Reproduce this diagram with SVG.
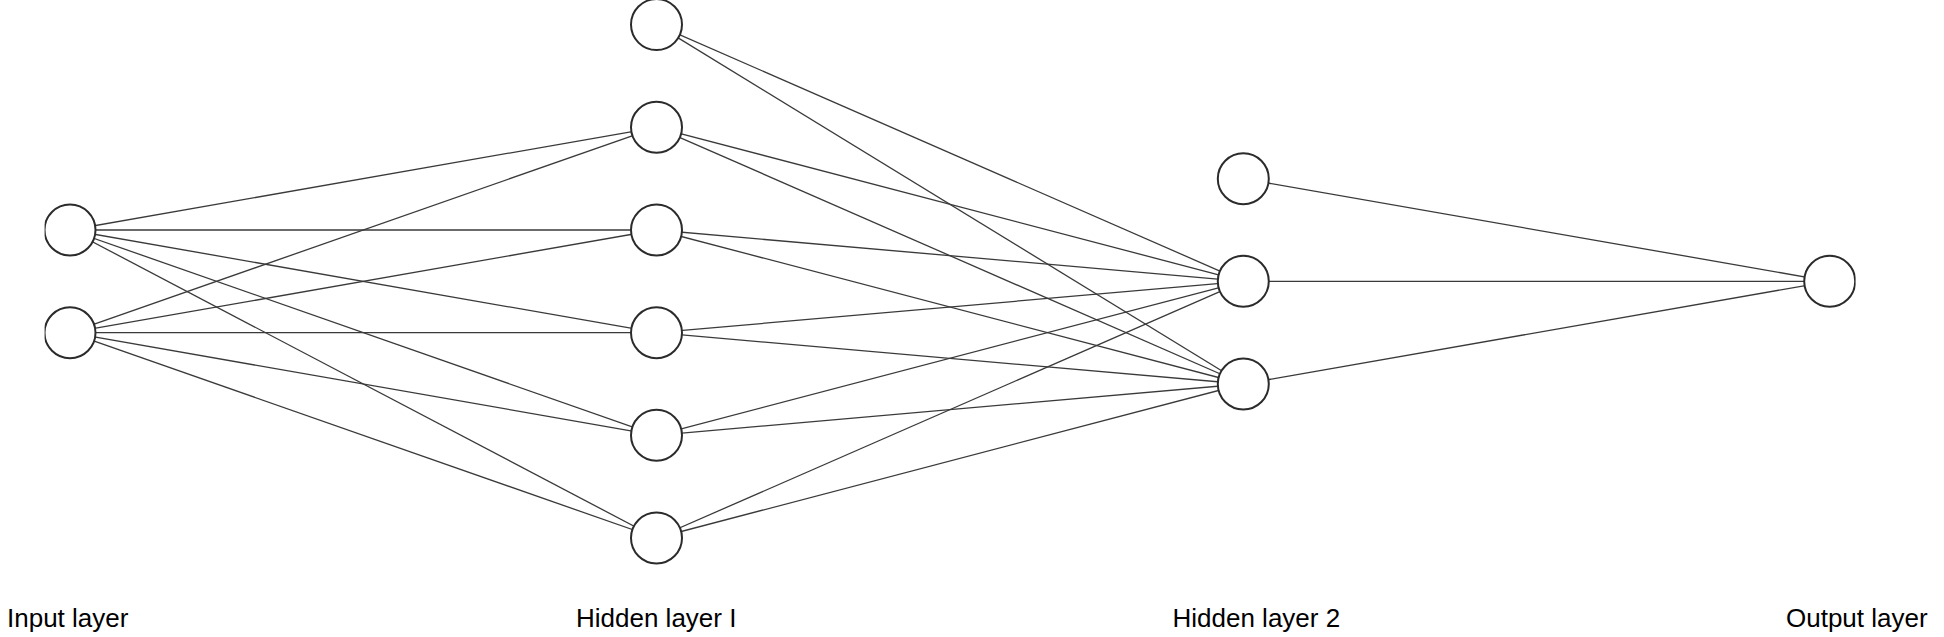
<svg xmlns="http://www.w3.org/2000/svg" width="1944" height="637" viewBox="0 0 1944 637">
<style>
.n{fill:#fff;stroke:#2b2b2b;stroke-width:2}
.c line{stroke:#3a3a3a;stroke-width:1.3}
.t{font-family:"Liberation Sans",Arial,sans-serif;font-size:26px;fill:#000}
</style>
<defs>
<clipPath id="clip"><rect x="44.6" y="0" width="1811" height="637"/></clipPath>
</defs>
<rect width="1944" height="637" fill="#fff"/>
<g class="c" id="connectors">
<line x1="70" y1="230" x2="656.5" y2="127.3"/>
<line x1="70" y1="230" x2="656.5" y2="230"/>
<line x1="70" y1="230" x2="656.5" y2="332.7"/>
<line x1="70" y1="230" x2="656.5" y2="435.3"/>
<line x1="70" y1="230" x2="656.5" y2="538"/>
<line x1="70" y1="332.7" x2="656.5" y2="127.3"/>
<line x1="70" y1="332.7" x2="656.5" y2="230"/>
<line x1="70" y1="332.7" x2="656.5" y2="332.7"/>
<line x1="70" y1="332.7" x2="656.5" y2="435.3"/>
<line x1="70" y1="332.7" x2="656.5" y2="538"/>
<line x1="656.5" y1="24.6" x2="1243.3" y2="281.3"/>
<line x1="656.5" y1="24.6" x2="1243.3" y2="384"/>
<line x1="656.5" y1="127.3" x2="1243.3" y2="281.3"/>
<line x1="656.5" y1="127.3" x2="1243.3" y2="384"/>
<line x1="656.5" y1="230" x2="1243.3" y2="281.3"/>
<line x1="656.5" y1="230" x2="1243.3" y2="384"/>
<line x1="656.5" y1="332.7" x2="1243.3" y2="281.3"/>
<line x1="656.5" y1="332.7" x2="1243.3" y2="384"/>
<line x1="656.5" y1="435.3" x2="1243.3" y2="281.3"/>
<line x1="656.5" y1="435.3" x2="1243.3" y2="384"/>
<line x1="656.5" y1="538" x2="1243.3" y2="281.3"/>
<line x1="656.5" y1="538" x2="1243.3" y2="384"/>
<line x1="1243.3" y1="178.7" x2="1829.7" y2="281.3"/>
<line x1="1243.3" y1="281.3" x2="1829.7" y2="281.3"/>
<line x1="1243.3" y1="384" x2="1829.7" y2="281.3"/>
</g>
<g id="in1"><circle class="n" cx="70" cy="230" r="25.5" clip-path="url(#clip)"/></g>
<g id="in2"><circle class="n" cx="70" cy="332.7" r="25.5" clip-path="url(#clip)"/></g>
<g id="h1a"><circle class="n" cx="656.5" cy="24.6" r="25.5"/></g>
<g id="h1b"><circle class="n" cx="656.5" cy="127.3" r="25.5"/></g>
<g id="h1c"><circle class="n" cx="656.5" cy="230" r="25.5"/></g>
<g id="h1d"><circle class="n" cx="656.5" cy="332.7" r="25.5"/></g>
<g id="h1e"><circle class="n" cx="656.5" cy="435.3" r="25.5"/></g>
<g id="h1f"><circle class="n" cx="656.5" cy="538" r="25.5"/></g>
<g id="h2a"><circle class="n" cx="1243.3" cy="178.7" r="25.5"/></g>
<g id="h2b"><circle class="n" cx="1243.3" cy="281.3" r="25.5"/></g>
<g id="h2c"><circle class="n" cx="1243.3" cy="384" r="25.5"/></g>
<g id="out"><circle class="n" cx="1829.7" cy="281.3" r="25.5" clip-path="url(#clip)"/></g>
<g id="labels">
<text class="t" x="7" y="627">Input layer</text>
<text class="t" x="576" y="627">Hidden layer I</text>
<text class="t" x="1172.5" y="627">Hidden layer 2</text>
<text class="t" x="1786" y="627">Output layer</text>
</g>
</svg>
